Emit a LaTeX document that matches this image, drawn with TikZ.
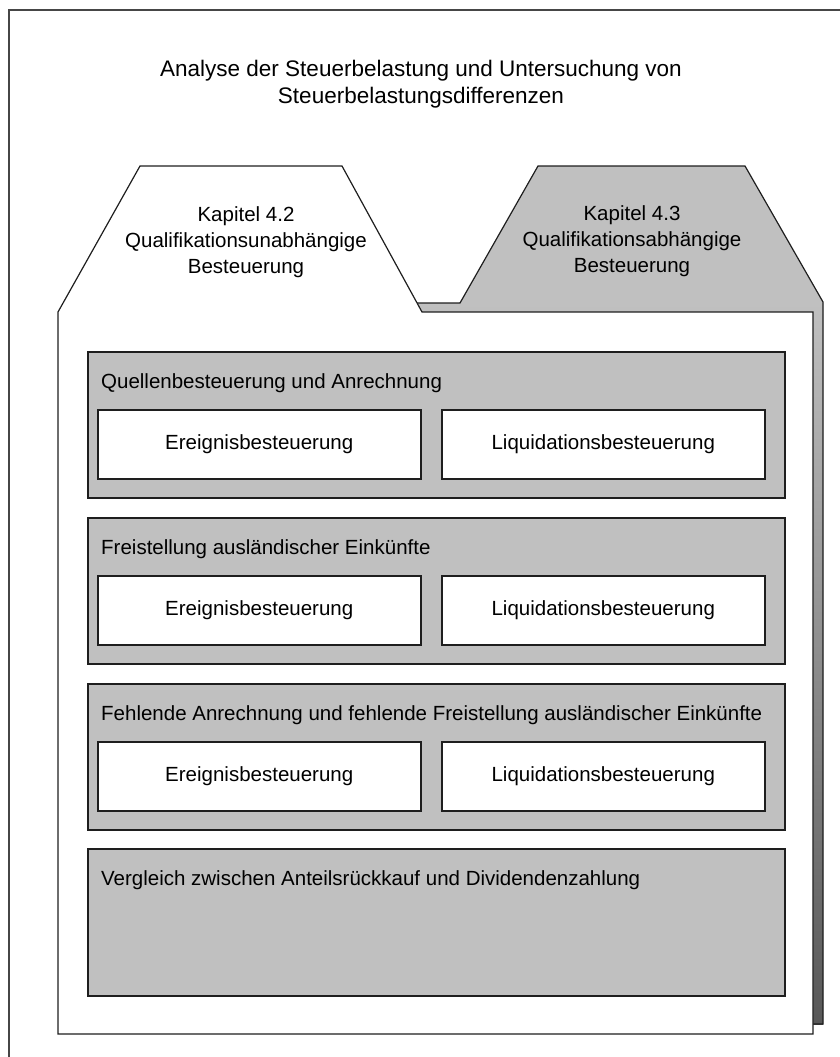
\documentclass[tikz,border=0pt]{standalone}
\usepackage{fontspec}
\setmainfont{Liberation Sans}
\usetikzlibrary{positioning}

\definecolor{boxgrey}{RGB}{192,192,192}
\definecolor{shadowgrey}{RGB}{88,88,88}
\definecolor{linegrey}{RGB}{30,30,30}
\definecolor{framegrey}{RGB}{70,70,70}

\tikzset{
  sectionbox/.style={draw=linegrey, line width=1.5pt, fill=boxgrey, anchor=north west,
    inner sep=0pt, minimum width=697pt, minimum height=146pt},
  casebox/.style={draw=linegrey, line width=1.5pt, fill=white, anchor=north west,
    inner sep=0pt, minimum width=323pt, minimum height=69pt},
  seclabel/.style={anchor=west, inner sep=0pt},
  tablabel/.style={align=center, inner sep=0pt, font=\fontsize{20.5}{26}\selectfont},
}

\begin{document}
\begin{tikzpicture}[x=1pt,y=1pt,yscale=-1,xscale=1,font=\fontsize{20.5}{24}\selectfont]
\useasboundingbox (0,0) rectangle (840,1057);

%Shape: outer frame, open to the right and at the bottom
\draw [framegrey, line width=1.5pt] (9,1062) -- (9,10) -- (845,10) ;

%Shape: back sheet with tab (Kapitel 4.3)
\fill [boxgrey] (67,303) -- (460,303) -- (538,166) -- (745,166) -- (823,302) -- (823,1024) -- (67,1024) -- cycle ;
\shade [top color=boxgrey, bottom color=shadowgrey] (67,303) rectangle (823,1024) ;
\draw [linegrey, line width=1.2pt] (67,303) -- (460,303) -- (538,166) -- (745,166) -- (823,302) -- (823,1024) -- (67,1024) -- cycle ;

%Shape: front sheet with tab (Kapitel 4.2)
\draw [linegrey, line width=1.2pt, fill=white] (58,1034) -- (58,312) -- (140,166) -- (342,166) -- (422,312) -- (813,312) -- (813,1034) -- cycle ;

% Text Node
\node (title) [align=center, inner sep=0pt, font=\fontsize{22.5}{27}\selectfont] at (421,84) {Analyse der Steuerbelastung und Untersuchung von\\Steuerbelastungsdifferenzen};
% Text Node
\node (kap42) [tablabel] at (246,242) {Kapitel 4.2\\Qualifikationsunabhängige\\Besteuerung};
% Text Node
\node (kap43) [tablabel] at (632,241) {Kapitel 4.3\\Qualifikationsabhängige\\Besteuerung};

%Shape: sections
\node (quellen) [sectionbox] at (87,351) {};
\node (freist) [sectionbox] at (87,517) {};
\node (fehlend) [sectionbox] at (87,683) {};
\node (vergleich) [sectionbox, minimum height=147pt] at (87,848) {};

% Text Node
\node (quellenT) [seclabel] at (101,383) {Quellenbesteuerung und Anrechnung};
\node (freistT) [seclabel] at (101,549) {Freistellung ausländischer Einkünfte};
\node (fehlendT) [seclabel] at (101,715) {Fehlende Anrechnung und fehlende Freistellung ausländischer Einkünfte};
\node (vergleichT) [seclabel] at (101,880) {Vergleich zwischen Anteilsrückkauf und Dividendenzahlung};

%Shape: cases
\node (quellenE) [casebox] at (97,409) {Ereignisbesteuerung};
\node (quellenL) [casebox] at (441,409) {Liquidationsbesteuerung};
\node (freistE) [casebox] at (97,575) {Ereignisbesteuerung};
\node (freistL) [casebox] at (441,575) {Liquidationsbesteuerung};
\node (fehlendE) [casebox] at (97,741) {Ereignisbesteuerung};
\node (fehlendL) [casebox] at (441,741) {Liquidationsbesteuerung};
\end{tikzpicture}
\end{document}
